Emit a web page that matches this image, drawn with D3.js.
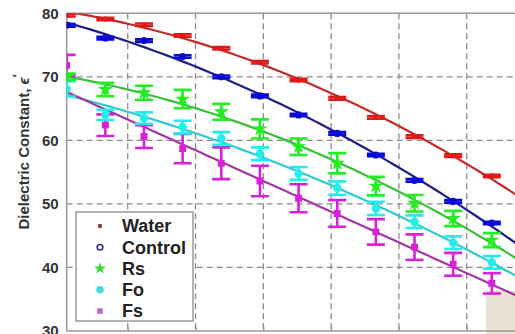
<!DOCTYPE html>
<html>
<head>
<meta charset="utf-8">
<script src="https://cdn.jsdelivr.net/npm/d3@7"></script>
<style>
  html, body { margin: 0; padding: 0; background: #fff; }
  svg { display: block; font-family: "Liberation Sans", Arial, sans-serif; }
</style>
</head>
<body>
<svg id="chart" width="515" height="334"></svg>
<script>
// Frequency (GHz) of each measurement
const frequency = [0.2, 1.34, 2.48, 3.62, 4.76, 5.9, 7.04, 8.18, 9.32, 10.46, 11.6, 12.74];

// Measured dielectric constant per sample
const water   = [79.7, 79.1, 78.2, 76.5, 74.5, 72.3, 69.5, 66.6, 63.6, 60.6, 57.6, 54.4];
const control = [78.1, 76.1, 75.7, 73.2, 70.0, 67.0, 64.0, 61.1, 57.7, 53.7, 50.4, 47.0];
const rs      = [70.0, 68.0, 67.5, 66.5, 64.5, 61.8, 59.0, 56.4, 52.8, 50.1, 47.7, 44.3];
const fo      = [68.1, 64.0, 63.5, 62.1, 60.3, 57.9, 54.8, 52.5, 49.3, 47.2, 43.9, 40.8];
const fs      = [71.8, 62.4, 60.6, 58.7, 56.4, 53.6, 50.9, 48.5, 45.6, 43.2, 40.5, 37.5];

// Standard deviation per point
const waterErr   = [0.2, 0.2, 0.2, 0.2, 0.2, 0.2, 0.2, 0.2, 0.2, 0.2, 0.2, 0.2];
const controlErr = [0.2, 0.2, 0.2, 0.2, 0.2, 0.2, 0.2, 0.2, 0.2, 0.2, 0.2, 0.2];
const rsErr      = [0.5, 1.05, 1.1, 1.45, 1.25, 1.5, 1.3, 1.6, 1.45, 1.3, 1.2, 1.1];
const foErr      = [1.2, 0.8, 0.9, 1.0, 1.0, 1.0, 1.0, 1.05, 1.05, 1.0, 1.0, 1.0];
const fsErr      = [1.65, 1.7, 1.8, 2.3, 2.5, 2.4, 2.2, 2.1, 2.0, 2.0, 1.8, 1.6];

const seriesNames = ["Water", "Control", "Rs", "Fo", "Fs"];
const yTicks = [30, 40, 50, 60, 70, 80];
const xTicks = [2, 4, 6, 8, 10, 12, 14];

// degree = order of the least-squares trend line
const series = [
  { name: "Water",   values: water,   err: waterErr,   degree: 2, line: "#c42a2a", mark: "#e01818", shape: "circle", size: 2.6 },
  { name: "Control", values: control, err: controlErr, degree: 2, line: "#1e1e86", mark: "#0a0ad8", shape: "circle", size: 3.6 },
  { name: "Rs",      values: rs,      err: rsErr,      degree: 2, line: "#38c038", mark: "#22ee22", shape: "star",   size: 70 },
  { name: "Fo",      values: fo,      err: foErr,      degree: 2, line: "#30caca", mark: "#22eeee", shape: "circle", size: 4.2 },
  { name: "Fs",      values: fs,      err: fsErr,      degree: 1, line: "#a436a4", mark: "#d822d8", shape: "square", size: 48 }
];

const svg = d3.select("#chart");
const W = 515, H = 334;
const plotLeft = 66.7, plotTop = 13.3, plotBottom = 331;

const x = d3.scaleLinear().domain([0.2, 14]).range([plotLeft, plotLeft + 33.9 * 13.8]);
const y = d3.scaleLinear().domain([30, 80]).range([plotBottom, plotTop]);

svg.append("defs").append("clipPath").attr("id", "plot-clip")
  .append("rect").attr("x", plotLeft).attr("y", plotTop)
  .attr("width", W - plotLeft).attr("height", plotBottom - plotTop);

// light patch in lower right corner
svg.append("rect").attr("x", 486).attr("y", 291).attr("width", 29).attr("height", H - 291)
  .attr("fill", "#ebe1d3");

// grid
const grid = svg.append("g").attr("stroke", "#8a8a8a").attr("stroke-width", 1.3)
  .attr("stroke-dasharray", "6,4").attr("fill", "none");
grid.selectAll("line.h").data(yTicks.filter(t => t > 30 && t < 80)).join("line").attr("class", "h")
  .attr("x1", plotLeft).attr("x2", W).attr("y1", d => y(d)).attr("y2", d => y(d));
grid.selectAll("line.v").data(xTicks.filter(t => x(t) < W)).join("line").attr("class", "v")
  .attr("y1", plotTop).attr("y2", plotBottom).attr("x1", d => x(d)).attr("x2", d => x(d));

// frame
const frame = svg.append("g").attr("stroke", "#9a9a9a").attr("stroke-width", 1.5).attr("fill", "none");
frame.append("line").attr("x1", plotLeft).attr("x2", W).attr("y1", plotTop).attr("y2", plotTop);
frame.append("line").attr("x1", plotLeft).attr("x2", W).attr("y1", plotBottom).attr("y2", plotBottom);
frame.append("line").attr("x1", plotLeft).attr("x2", plotLeft).attr("y1", plotTop).attr("y2", plotBottom);

// axis tick labels
const yAxis = d3.axisLeft(y).tickValues(yTicks).tickSize(0).tickPadding(8);
const ya = svg.append("g").attr("transform", `translate(${plotLeft},0)`).call(yAxis);
ya.select(".domain").remove();
ya.selectAll("text").attr("font-size", 15).attr("font-weight", "bold").attr("fill", "#333")
  .attr("font-family", "Liberation Sans, Arial, sans-serif");

const xAxis = d3.axisBottom(x).tickValues(xTicks.filter(t => x(t) < W)).tickSize(-4).tickFormat("");
const xa = svg.append("g").attr("transform", `translate(0,${plotBottom})`).call(xAxis);
xa.select(".domain").remove();
xa.selectAll("line").attr("stroke", "#9a9a9a").attr("stroke-width", 1.3);

// axis title
const title = svg.append("text")
  .attr("transform", "translate(29,152) rotate(-90)")
  .attr("text-anchor", "middle")
  .attr("font-size", 15).attr("font-weight", "bold").attr("fill", "#333");
title.append("tspan").text("Dielectric Constant, ");
title.append("tspan").attr("font-style", "italic").text("ϵ");
title.append("tspan").attr("dy", -7).attr("font-size", 12).text("′");

// least-squares polynomial trend (normal equations, Gaussian elimination)
function polyFit(xs, ys, deg) {
  const m = deg + 1;
  const A = d3.range(m).map(() => new Array(m + 1).fill(0));
  xs.forEach((xi, i) => {
    for (let r = 0; r < m; r++) {
      for (let c = 0; c < m; c++) A[r][c] += Math.pow(xi, r + c);
      A[r][m] += Math.pow(xi, r) * ys[i];
    }
  });
  for (let c = 0; c < m; c++) {
    for (let r = c + 1; r < m; r++) {
      const f = A[r][c] / A[c][c];
      for (let k = c; k <= m; k++) A[r][k] -= f * A[c][k];
    }
  }
  const b = new Array(m).fill(0);
  for (let r = m - 1; r >= 0; r--) {
    let v = A[r][m];
    for (let k = r + 1; k < m; k++) v -= A[r][k] * b[k];
    b[r] = v / A[r][r];
  }
  return xv => b.reduce((acc, bk, k) => acc + bk * Math.pow(xv, k), 0);
}

const plot = svg.append("g").attr("clip-path", "url(#plot-clip)");
const xEnd = x.invert(W + 2);
const samples = d3.range(0, 81).map(i => 0.2 + (xEnd - 0.2) * i / 80);
const lineGen = d3.line().x(d => x(d[0])).y(d => y(d[1]));

series.forEach(s => {
  const fit = polyFit(frequency, s.values, s.degree);
  plot.append("path").datum(samples.map(f => [f, fit(f)]))
    .attr("d", lineGen).attr("fill", "none").attr("stroke", s.line).attr("stroke-width", 2.2);
});

const cap = 9;
series.slice().reverse().forEach(s => {
  const g = plot.append("g");
  const pts = frequency.map((f, i) => ({ f, v: s.values[i], e: s.err[i] }));
  const eb = g.append("g").attr("stroke", s.mark).attr("stroke-width", 2.6).attr("fill", "none");
  eb.selectAll("line.stem").data(pts).join("line").attr("class", "stem")
    .attr("x1", d => x(d.f)).attr("x2", d => x(d.f))
    .attr("y1", d => y(d.v - d.e)).attr("y2", d => y(d.v + d.e));
  eb.selectAll("line.top").data(pts).join("line").attr("class", "top")
    .attr("x1", d => x(d.f) - cap).attr("x2", d => x(d.f) + cap)
    .attr("y1", d => y(d.v + d.e)).attr("y2", d => y(d.v + d.e));
  eb.selectAll("line.bot").data(pts).join("line").attr("class", "bot")
    .attr("x1", d => x(d.f) - cap).attr("x2", d => x(d.f) + cap)
    .attr("y1", d => y(d.v - d.e)).attr("y2", d => y(d.v - d.e));
  if (s.shape === "circle") {
    g.selectAll("circle").data(pts).join("circle")
      .attr("cx", d => x(d.f)).attr("cy", d => y(d.v)).attr("r", s.size).attr("fill", s.mark);
  } else {
    const sym = d3.symbol().type(s.shape === "star" ? d3.symbolStar : d3.symbolSquare).size(s.size);
    g.selectAll("path").data(pts).join("path")
      .attr("transform", d => `translate(${x(d.f)},${y(d.v)})`).attr("d", sym).attr("fill", s.mark);
  }
});

// legend
const lg = svg.append("g");
lg.append("rect").attr("x", 76).attr("y", 212).attr("width", 117).attr("height", 109)
  .attr("fill", "#fff").attr("stroke", "#8a8a8a").attr("stroke-width", 1.3);
const legendMarks = {
  Water:   g => g.append("circle").attr("r", 2.2).attr("fill", "#8a3c3c"),
  Control: g => g.append("circle").attr("r", 2.8).attr("fill", "none").attr("stroke", "#2a2a9a").attr("stroke-width", 1.6),
  Rs:      g => g.append("path").attr("d", d3.symbol().type(d3.symbolStar).size(45)).attr("fill", "#33dd33"),
  Fo:      g => g.append("circle").attr("r", 3.8).attr("fill", "#44dddd"),
  Fs:      g => g.append("path").attr("d", d3.symbol().type(d3.symbolSquare).size(30)).attr("fill", "#c060c8")
};
const ly = d3.scalePoint().domain(seriesNames).range([226, 311]);
seriesNames.forEach(name => {
  const row = lg.append("g").attr("transform", `translate(0,${ly(name)})`);
  legendMarks[name](row.append("g").attr("transform", "translate(100,0)"));
  row.append("text").attr("x", 122).attr("y", 0).attr("dy", "0.36em")
    .attr("font-size", 18).attr("font-weight", "bold").attr("fill", "#222").text(name);
});
</script>
</body>
</html>
